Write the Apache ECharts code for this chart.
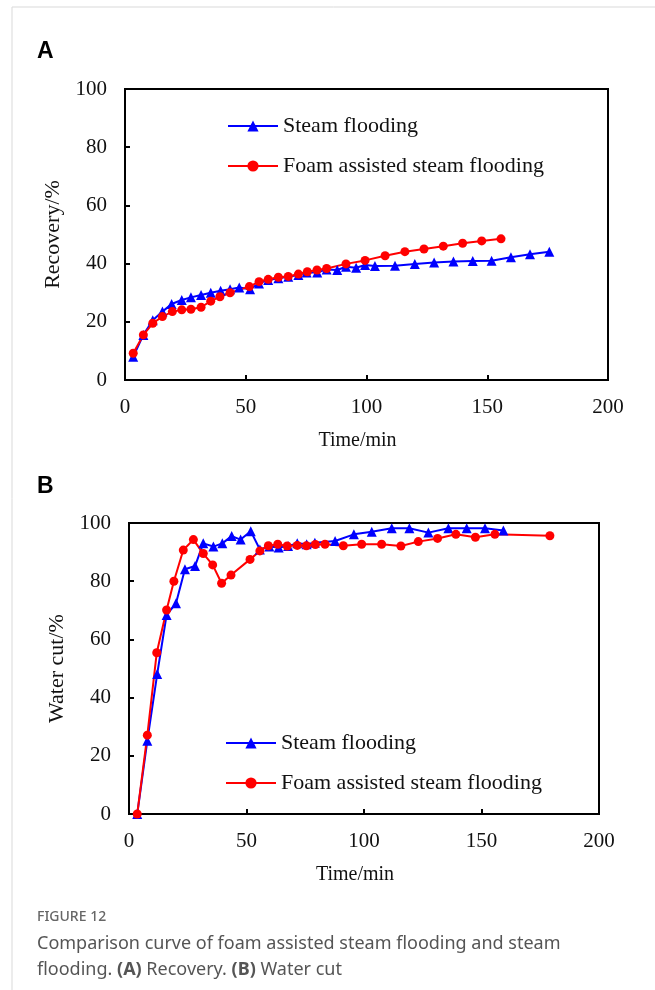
<!DOCTYPE html>
<html>
<head>
<meta charset="utf-8">
<script src="https://cdn.jsdelivr.net/npm/echarts@6/dist/echarts.min.js"></script>
<style>
  html, body { margin: 0; padding: 0; background: #fff; }
  #chart { width: 655px; height: 990px; }
</style>
</head>
<body>
<div id="chart"></div>
<script>
// (A) Recovery
const recTimeSteam = [3.4, 7.6, 11.5, 15.5, 19.3, 23.5, 27.3, 31.5, 35.5, 39.6, 43.5, 47.3, 51.8, 55.5, 59.3, 63.5, 67.6, 71.8, 75.2, 79.6, 83.5, 87.9, 91.5, 95.7, 99.4, 103.5, 111.8, 120, 128, 136, 144, 151.8, 159.8, 167.7, 175.7];
const recSteam = [8, 15.5, 20.5, 23.5, 26.1, 27.5, 28.4, 29.2, 30, 30.7, 31.2, 31.8, 31.2, 33.2, 34.4, 35, 35.5, 36.1, 36.9, 36.9, 38, 37.8, 38.9, 38.6, 39.5, 39.2, 39.3, 39.9, 40.4, 40.7, 40.9, 41, 42.2, 43.2, 44.1];
const recTimeFoam = [3.4, 7.6, 11.5, 15.5, 19.6, 23.5, 27.3, 31.5, 35.5, 39.3, 43.5, 51.5, 55.5, 59.3, 63.5, 67.6, 71.8, 75.5, 79.5, 83.5, 91.5, 99.4, 107.7, 115.9, 123.8, 131.8, 139.8, 147.7, 155.7];
const recFoam = [9.2, 15.5, 19.5, 21.8, 23.5, 24.1, 24.3, 25, 27.1, 28.6, 30, 32.1, 33.8, 34.6, 35.3, 35.6, 36.4, 37.2, 37.8, 38.3, 39.9, 41.1, 42.7, 44.1, 45, 46, 47, 47.8, 48.5];

// (B) Water cut
const wcTimeSteam = [3.5, 7.8, 12, 16, 20, 23.8, 28.1, 31.6, 35.9, 39.7, 43.7, 47.5, 51.8, 55.7, 59.7, 63.7, 67.7, 71.6, 75.6, 79.1, 87.7, 95.7, 103.3, 111.8, 119.3, 127.4, 135.9, 143.7, 151.5, 159.3];
const wcSteam = [0, 25.2, 48.1, 68.4, 72.4, 84.1, 85.2, 93, 91.9, 93, 95.5, 94.3, 97.2, 90.9, 91.9, 91.6, 92.1, 93, 92.7, 93.2, 93.8, 96.1, 97, 98.2, 98.2, 96.7, 98.2, 98.2, 98.2, 97.4];
const wcTimeFoam = [3.5, 7.8, 11.8, 16, 19.1, 23.1, 27.4, 31.6, 35.6, 39.4, 43.4, 51.5, 55.7, 59.3, 63.3, 67.3, 71.6, 75.5, 79.3, 83.4, 91.2, 99, 107.5, 115.7, 123.1, 131.3, 139.1, 147.4, 155.7, 179.1];
const wcFoam = [0, 27.1, 55.4, 70.1, 80, 90.7, 94.3, 89.5, 85.6, 79.3, 82.1, 87.5, 90.4, 92.2, 92.7, 92.1, 92.3, 92.2, 92.6, 92.7, 92.2, 92.7, 92.7, 92.1, 93.6, 94.7, 96.1, 95.1, 96.1, 95.6];

const seriesNames = ['Steam flooding', 'Foam assisted steam flooding'];
const panelLabels = ['A', 'B'];
const yNames = ['Recovery/%', 'Water cut/%'];
const xName = 'Time/min';

const serif = '"Liberation Serif", "DejaVu Serif", serif';
const BLUE = '#0000ff';
const RED = '#ff0000';

function pairs(xs, ys) {
  return xs.map((x, i) => [x, ys[i]]);
}

function makeX(gridIndex) {
  return {
    type: 'value', gridIndex, min: 0, max: 200, interval: 50,
    name: xName, nameLocation: 'middle', nameGap: 51,
    nameTextStyle: { fontFamily: serif, fontSize: 20, color: '#111', padding: [0, 18, 0, 0] },
    axisLine: { onZero: false, lineStyle: { color: '#000', width: 2 } },
    axisTick: { inside: true, length: 5, lineStyle: { color: '#000', width: 2 } },
    axisLabel: { fontFamily: serif, fontSize: 21, color: '#111', margin: 17 },
    splitLine: { show: false }
  };
}

function makeY(gridIndex, gap) {
  return {
    type: 'value', gridIndex, min: 0, max: 100, interval: 20,
    name: yNames[gridIndex], nameLocation: 'middle', nameGap: gap,
    nameTextStyle: { fontFamily: serif, fontSize: 22, color: '#111' },
    axisLine: { lineStyle: { color: '#000', width: 2 } },
    axisTick: { inside: true, length: 5, lineStyle: { color: '#000', width: 2 } },
    axisLabel: { fontFamily: serif, fontSize: 21, color: '#111', margin: 18 },
    splitLine: { show: false }
  };
}

function makeSeries(name, idx, data, color, symbol, size) {
  return {
    name, type: 'line', xAxisIndex: idx, yAxisIndex: idx,
    data, symbol, symbolSize: size, showAllSymbol: true,
    lineStyle: { color, width: 2 },
    itemStyle: { color },
    animation: false
  };
}

const chart = echarts.init(document.getElementById('chart'));

const legendBase = {
  orient: 'vertical', itemWidth: 50, itemHeight: 14, itemGap: 18, padding: 0,
  textStyle: { fontFamily: serif, fontSize: 22, color: '#111', lineHeight: 22 },
  selectedMode: false
};

chart.setOption({
  backgroundColor: '#fff',
  animation: false,
  grid: [
    { left: 125, top: 89, width: 483, height: 291, show: true, borderColor: '#000', borderWidth: 2 },
    { left: 129, top: 523, width: 470, height: 291, show: true, borderColor: '#000', borderWidth: 2 }
  ],
  xAxis: [makeX(0), makeX(1)],
  yAxis: [makeY(0, 56), makeY(1, 59)],
  legend: [
    Object.assign({}, legendBase, { left: 227, top: 115, data: [seriesNames[0] + ' ', seriesNames[1] + ' '] }),
    Object.assign({}, legendBase, { left: 225, top: 732, data: [seriesNames[0], seriesNames[1]] })
  ],
  series: [
    makeSeries(seriesNames[0] + ' ', 0, pairs(recTimeSteam, recSteam), BLUE, 'triangle', 10),
    makeSeries(seriesNames[1] + ' ', 0, pairs(recTimeFoam, recFoam), RED, 'circle', 9),
    makeSeries(seriesNames[0], 1, pairs(wcTimeSteam, wcSteam), BLUE, 'triangle', 10),
    makeSeries(seriesNames[1], 1, pairs(wcTimeFoam, wcFoam), RED, 'circle', 9)
  ],
  graphic: [
    { type: 'line', shape: { x1: 12, y1: 7, x2: 655, y2: 7 }, style: { stroke: '#d9d9d9', lineWidth: 1 } },
    { type: 'line', shape: { x1: 12, y1: 7, x2: 12, y2: 990 }, style: { stroke: '#d9d9d9', lineWidth: 1 } },
    { type: 'text', left: 37, top: 40, style: { text: panelLabels[0], font: 'bold 23px "Liberation Sans", Arial, sans-serif', fill: '#000' } },
    { type: 'text', left: 37, top: 475, style: { text: panelLabels[1], font: 'bold 23px "Liberation Sans", Arial, sans-serif', fill: '#000' } },
    { type: 'text', left: 37, top: 910, style: { text: 'FIGURE 12', font: '500 14px "Noto Sans", sans-serif', fill: '#666' } },
    { type: 'text', left: 37, top: 931, style: {
      text: 'Comparison curve of foam assisted steam flooding and steam\nflooding. {b|(A)} Recovery. {b|(B)} Water cut',
      font: '18px "Noto Sans", sans-serif', fill: '#555', lineHeight: 26,
      rich: { b: { fontWeight: 'bold', fontSize: 18, fontFamily: '"Noto Sans", sans-serif', fill: '#555', lineHeight: 26 } }
    } }
  ]
});
</script>
</body>
</html>
